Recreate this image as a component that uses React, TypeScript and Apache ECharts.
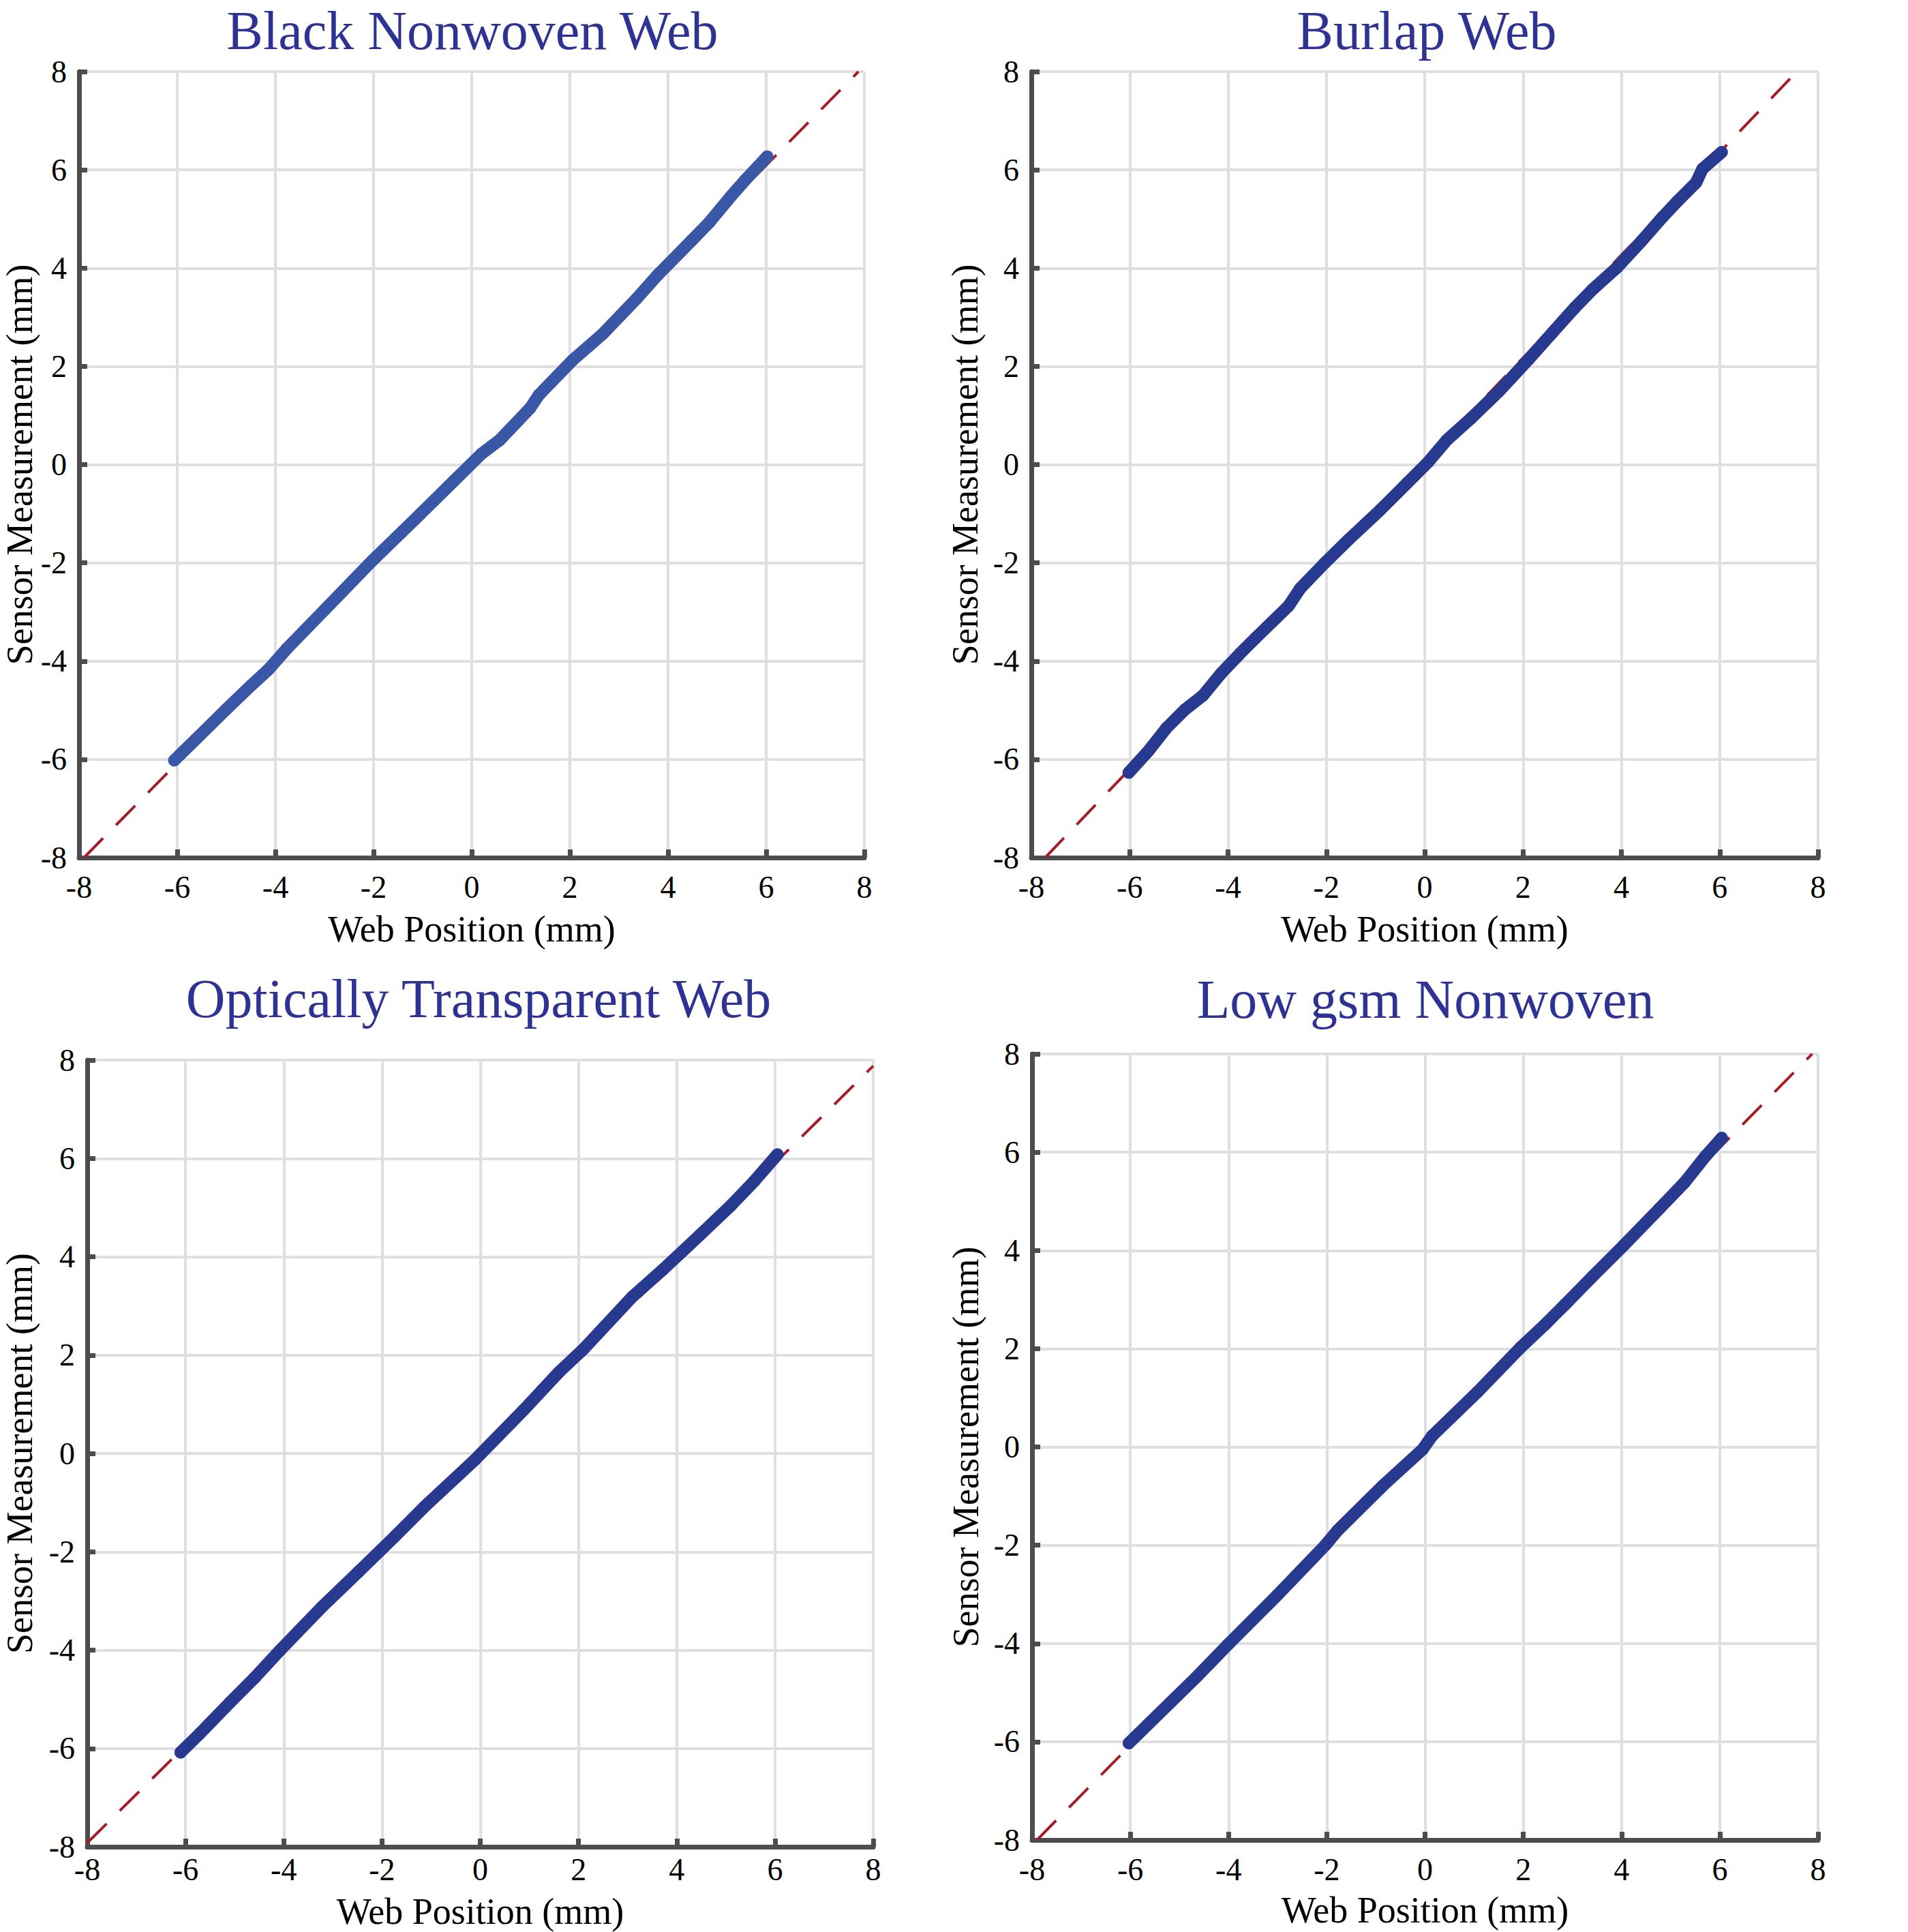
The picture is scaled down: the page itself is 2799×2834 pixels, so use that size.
import React, { useEffect, useRef } from 'react';
import * as echarts from 'echarts';

const FONT = "'Palatino Linotype', Palatino, 'Book Antiqua', 'Liberation Serif', serif";

// panel titles and axis names
const panelTitles = ['Black Nonwoven Web', 'Burlap Web', 'Optically Transparent Web', 'Low gsm Nonwoven'];
const xAxisName = 'Web Position (mm)';
const yAxisName = 'Sensor Measurement (mm)';

// axis range (mm)
const axisMin = -8;
const axisMax = 8;
const axisStep = 2;

const blackX = [-6.06, -5.62, -5.0, -4.5, -4.14, -3.76, -3.0, -2.03, -1.04, -0.36, 0.2, 0.57, 1.19, 1.37, 2.06, 2.67, 3.36, 3.79, 4.47, 4.84, 5.28, 5.58, 6.02];
const blackY = [-6.02, -5.59, -4.98, -4.5, -4.17, -3.74, -2.96, -1.96, -1.0, -0.33, 0.22, 0.5, 1.15, 1.42, 2.13, 2.66, 3.38, 3.86, 4.55, 4.93, 5.46, 5.8, 6.27];

const burlapX = [-6.02, -5.62, -5.25, -4.88, -4.51, -4.14, -3.76, -3.45, -2.77, -2.53, -2.03, -1.54, -0.92, -0.36, 0.07, 0.45, 0.94, 1.5, 2.12, 2.61, 3.05, 3.42, 3.91, 4.41, 4.84, 5.15, 5.52, 5.65, 6.04];
const burlapY = [-6.27, -5.83, -5.36, -4.99, -4.7, -4.25, -3.85, -3.54, -2.88, -2.52, -2.0, -1.52, -0.94, -0.38, 0.05, 0.5, 0.94, 1.48, 2.15, 2.7, 3.19, 3.57, 4.01, 4.55, 5.04, 5.37, 5.74, 6.02, 6.36];

const transparentX = [-6.1, -5.71, -5.1, -4.59, -4.09, -3.22, -2.48, -1.74, -1.12, -0.12, 0.87, 1.61, 2.11, 3.1, 3.72, 4.47, 5.09, 5.58, 6.05];
const transparentY = [-6.08, -5.7, -5.07, -4.56, -4.02, -3.12, -2.41, -1.69, -1.07, -0.14, 0.87, 1.66, 2.13, 3.19, 3.74, 4.44, 5.03, 5.54, 6.08];

const lowGsmX = [-6.03, -4.63, -4.01, -3.02, -2.03, -1.78, -0.85, -0.05, 0.14, 1.07, 1.93, 2.43, 2.86, 3.42, 4.04, 4.78, 5.28, 5.71, 6.04];
const lowGsmY = [-6.03, -4.66, -4.02, -3.03, -2.0, -1.7, -0.78, -0.05, 0.22, 1.12, 2.01, 2.48, 2.91, 3.48, 4.1, 4.86, 5.38, 5.92, 6.29];

// reference (fit) line end points per panel
const blackFitX = [-7.9, 7.88];
const blackFitY = [-8, 8];
const burlapFitX = [-7.72, 7.57];
const burlapFitY = [-8, 8];
const transparentFitX = [-8, 8];
const transparentFitY = [-7.92, 7.88];
const lowGsmFitX = [-7.9, 7.88];
const lowGsmFitY = [-8, 8];

const pointsX = [blackX, burlapX, transparentX, lowGsmX];
const pointsY = [blackY, burlapY, transparentY, lowGsmY];
const fitX = [blackFitX, burlapFitX, transparentFitX, lowGsmFitX];
const fitY = [blackFitY, burlapFitY, transparentFitY, lowGsmFitY];

const seriesColors = ['#3a56a6', '#283a8f', '#283a8f', '#283a8f'];

// panel placement on the page
const layouts = [
  { left: 116, top: 105, width: 1152, height: 1153, titleX: 693, titleY: 5, gapX: 80, gapY: 60, marginX: 20 },
  { left: 1513, top: 105, width: 1154, height: 1153, titleX: 2093, titleY: 5, gapX: 80, gapY: 72, marginX: 20 },
  { left: 128, top: 1555, width: 1153, height: 1154, titleX: 702, titleY: 1425, gapX: 70, gapY: 74, marginX: 10 },
  { left: 1514, top: 1546, width: 1153, height: 1153, titleX: 2091, titleY: 1426, gapX: 78, gapY: 72, marginX: 20 },
];

const AXIS = '#4d4d4f';
const GRID = '#dfdfe0';
const RED = '#a61e25';
const TITLE = '#2e3292';

const zip = (xs: number[], ys: number[]) => xs.map((x, i) => [x, ys[i]]);

function buildOption(): echarts.EChartsOption {
  const axisCommon = (gap: number, name: string, margin: number) => ({
    type: 'value' as const,
    min: axisMin,
    max: axisMax,
    interval: axisStep,
    name,
    nameLocation: 'middle' as const,
    nameGap: gap,
    nameTextStyle: { fontSize: 54, lineHeight: 50, fontFamily: FONT, color: '#000' },
    axisLine: { show: true, onZero: false, lineStyle: { color: AXIS, width: 7 } },
    axisTick: { show: true, inside: true, length: 12, lineStyle: { color: AXIS, width: 7 } },
    axisLabel: { fontSize: 46, fontFamily: FONT, color: '#000', margin },
    splitLine: { show: true, lineStyle: { color: GRID, width: 4 } },
  });

  return {
    animation: false,
    backgroundColor: '#fff',
    title: layouts.map((l, i) => ({
      text: panelTitles[i],
      left: l.titleX,
      top: l.titleY,
      textAlign: 'center',
      padding: 0,
      textStyle: { fontSize: 80, lineHeight: 80, fontWeight: 'normal', fontFamily: FONT, color: TITLE },
    })),
    grid: layouts.map((l) => ({
      left: l.left,
      top: l.top,
      width: l.width,
      height: l.height,
      containLabel: false,
      outerBoundsMode: 'none',
    })) as any,
    xAxis: layouts.map((l, i) => ({ ...axisCommon(l.gapX, xAxisName, l.marginX), gridIndex: i, position: 'bottom' })),
    yAxis: layouts.map((l, i) => ({
      ...axisCommon(l.gapY, yAxisName, 18),
      gridIndex: i,
      position: 'left',
      nameRotate: 90,
    })),
    series: layouts.flatMap((_, i) => [
      {
        type: 'line' as const,
        xAxisIndex: i,
        yAxisIndex: i,
        data: zip(fitX[i], fitY[i]),
        showSymbol: false,
        silent: true,
        z: 2,
        lineStyle: { color: RED, width: 4, type: [40, 27] },
      },
      {
        type: 'line' as const,
        xAxisIndex: i,
        yAxisIndex: i,
        data: zip(pointsX[i], pointsY[i]),
        symbol: 'circle',
        symbolSize: 18,
        showSymbol: true,
        showAllSymbol: true,
        silent: true,
        z: 3,
        itemStyle: { color: seriesColors[i] },
        lineStyle: { color: seriesColors[i], width: 18, cap: 'round', join: 'round' },
      },
    ]),
  };
}

export default function App() {
  const ref = useRef<HTMLDivElement>(null);

  useEffect(() => {
    if (!ref.current) return;
    const chart = echarts.init(ref.current, null, { renderer: 'svg' });
    chart.setOption(buildOption());
    return () => chart.dispose();
  }, []);

  return (
    <div
      ref={ref}
      style={{ position: 'absolute', left: 0, top: 0, width: 2799, height: 2834, background: '#fff' }}
    />
  );
}
